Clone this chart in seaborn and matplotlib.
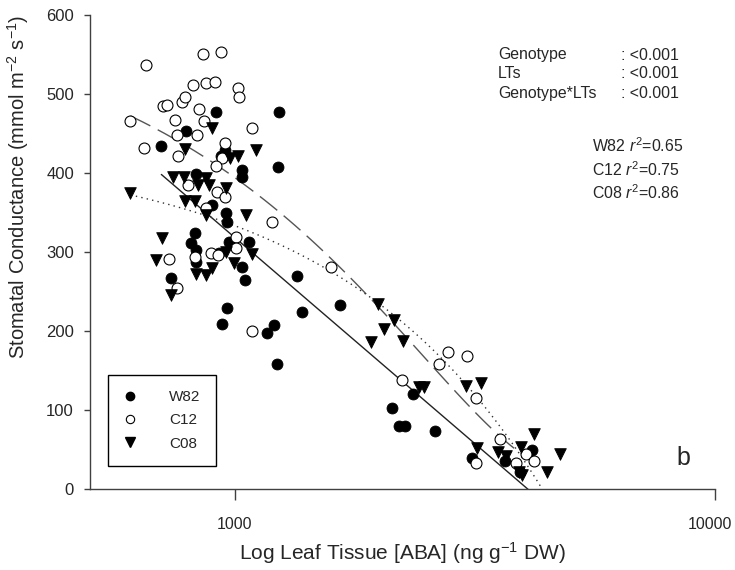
import numpy as np
import pandas as pd
import matplotlib
matplotlib.use('Agg')
import matplotlib.pyplot as plt
import matplotlib.transforms as mtransforms
import seaborn as sns
from matplotlib.lines import Line2D
from matplotlib.ticker import NullLocator

# leaf ABA (ng g-1 DW) and stomatal conductance (mmol m-2 s-1)
w82_aba = [704, 794, 913, 953, 935, 1236, 1230, 1034, 1034, 833, 896, 958, 962, 829,
           813, 833, 972, 1070, 833, 926, 1034, 739, 1049, 962, 940, 1206, 1166, 1224,
           1348, 1380, 1657, 2127, 2200, 2264, 2353, 2616, 3125, 3662, 4169, 3936]
w82_gs = [434, 453, 477, 429, 422, 477, 408, 404, 395, 399, 359, 349, 338, 324,
          311, 303, 313, 313, 287, 299, 281, 267, 265, 229, 209, 208, 197, 158,
          270, 224, 233, 103, 80, 80, 120, 73, 39, 35, 49, 22]

c12_aba = [607, 655, 649, 711, 725, 753, 760, 764, 779, 787, 821, 858, 874, 909, 935,
           845, 862, 837, 953, 940, 913, 1015, 1020, 1085, 798, 917, 953, 870, 1195,
           1005, 1005, 829, 891, 922, 732, 757, 1085, 1586, 2232, 2666, 2784, 3051,
           3186, 3575, 4051, 4209, 3860, 3186]
c12_gs = [466, 537, 432, 485, 486, 467, 448, 422, 490, 496, 511, 551, 514, 515, 553,
          481, 466, 448, 438, 419, 409, 508, 496, 457, 385, 376, 370, 356, 338,
          319, 305, 294, 299, 296, 291, 254, 200, 281, 138, 158, 173, 168,
          115, 63, 44, 35, 33, 33]

c08_aba = [607, 707, 687, 739, 746, 783, 790, 790, 829, 841, 874, 883, 896, 958, 874,
           1054, 976, 1015, 1106, 833, 870, 896, 958, 995, 1085, 1988, 2147, 2047,
           2242, 1923, 2422, 2481, 3036, 3264, 4209, 3202, 3540, 3680, 3955, 4747,
           4480, 3917, 3974]
c08_gs = [375, 318, 290, 246, 395, 395, 430, 365, 365, 385, 394, 385, 457, 381, 347,
          347, 419, 422, 429, 272, 271, 280, 300, 286, 297, 234, 214, 203,
          187, 186, 129, 129, 130, 134, 70, 52, 47, 42, 53, 44,
          22, 22, 18]

genotypes = ['W82', 'C12', 'C08']
r2_values = ['0.65', '0.75', '0.86']
stats_terms = ['Genotype', 'LTs', 'Genotype*LTs']
stats_p = ['<0.001', '<0.001', '<0.001']

w82 = pd.DataFrame({'ABA': w82_aba, 'gs': w82_gs})
c12 = pd.DataFrame({'ABA': c12_aba, 'gs': c12_gs})
c08 = pd.DataFrame({'ABA': c08_aba, 'gs': c08_gs})

sns.set_style('ticks')
plt.rcParams['font.family'] = ['Liberation Sans', 'DejaVu Sans']
plt.rcParams['mathtext.fontset'] = 'custom'
plt.rcParams['mathtext.rm'] = 'Liberation Sans'
plt.rcParams['mathtext.it'] = 'Liberation Sans:italic'

fig = plt.figure(figsize=(7.35, 5.7), dpi=100)
ax = fig.add_axes([0.1224, 0.1421, 0.8504, 0.8316])
ax.set_xscale('log')

# regression lines
sns.regplot(data=w82, x='ABA', y='gs', logx=True, scatter=False, ci=None, ax=ax,
            line_kws=dict(color='#222222', lw=1.0))
sns.regplot(data=c12, x='ABA', y='gs', order=2, scatter=False, ci=None, ax=ax,
            line_kws=dict(color='#555555', lw=1.0, dashes=(16, 6)))
sns.regplot(data=c08, x='ABA', y='gs', scatter=False, ci=None, ax=ax,
            line_kws=dict(color='#333333', lw=1.0, ls=(0, (1, 3))))

# points
sns.scatterplot(data=w82, x='ABA', y='gs', marker='o', color='black', s=62,
                edgecolor='black', linewidth=0.6, ax=ax, zorder=3)
sns.scatterplot(data=c12, x='ABA', y='gs', marker='o', color='white', s=62,
                edgecolor='black', linewidth=0.8, ax=ax, zorder=3)
sns.scatterplot(data=c08, x='ABA', y='gs', marker='v', color='black', s=70,
                edgecolor='black', linewidth=0.6, ax=ax, zorder=3)

ax.set_xlim(500, 10000)
ax.set_ylim(0, 600)
ax.set_xticks([1000, 10000])
ax.set_xticklabels(['1000', '10000'])
ax.xaxis.set_minor_locator(NullLocator())
ax.set_yticks(range(0, 601, 100))
sns.despine(ax=ax)
for sp in ['left', 'bottom']:
    ax.spines[sp].set_color('#404040')
    ax.spines[sp].set_linewidth(1.0)
ax.tick_params(axis='x', direction='out', length=8, width=1, pad=12, labelsize=11.5,
               color='#404040')
ax.tick_params(axis='y', direction='out', length=4.5, width=1, pad=7, labelsize=12,
               color='#404040')
# nudge the last x tick label so it stays inside the image
last = ax.get_xticklabels()[-1]
last.set_transform(last.get_transform() +
                   mtransforms.ScaledTranslation(-4 / 72, 0, fig.dpi_scale_trans))

ax.set_xlabel('Log Leaf Tissue [ABA] (ng g$^{-1}$ DW)', fontsize=15, labelpad=6)
ax.set_ylabel('Stomatal Conductance (mmol m$^{-2}$ s$^{-1}$)', fontsize=14.5)
ax.yaxis.set_label_coords(-0.095, 0.637)

# stats text
for i, (term, p) in enumerate(zip(stats_terms, stats_p)):
    y = 1 - (55 + 19 * i) / 570
    fig.text(498 / 735, y, term, fontsize=11.4, va='center', ha='left')
    fig.text(621 / 735, y, ': ' + p, fontsize=11.4, va='center', ha='left')
for i, (g, r2) in enumerate(zip(genotypes, r2_values)):
    y = 1 - (146 + 23.5 * i) / 570
    fig.text(592 / 735, y, g + ' $r^2$=' + r2, fontsize=11.4, va='center', ha='left')

fig.text(683 / 735, 1 - 458 / 570, 'b', fontsize=18, ha='center', va='center')

handles = [
    Line2D([], [], ls='none', marker='o', color='black', markersize=6),
    Line2D([], [], ls='none', marker='o', markerfacecolor='white',
           markeredgecolor='black', markersize=6, markeredgewidth=0.8),
    Line2D([], [], ls='none', marker='v', color='black', markersize=7),
]
leg = ax.legend(handles, genotypes, loc='upper left',
                bbox_to_anchor=((108 - 90) / 625, (489 - 375) / 474),
                borderaxespad=0, fontsize=11, frameon=True, fancybox=False,
                borderpad=1.0, labelspacing=0.6, handlelength=0.9,
                handletextpad=2.1)
leg.get_frame().set_edgecolor('black')
leg.get_frame().set_linewidth(1.0)
leg.get_frame().set_alpha(1)

fig.savefig('out.png', dpi=100)
